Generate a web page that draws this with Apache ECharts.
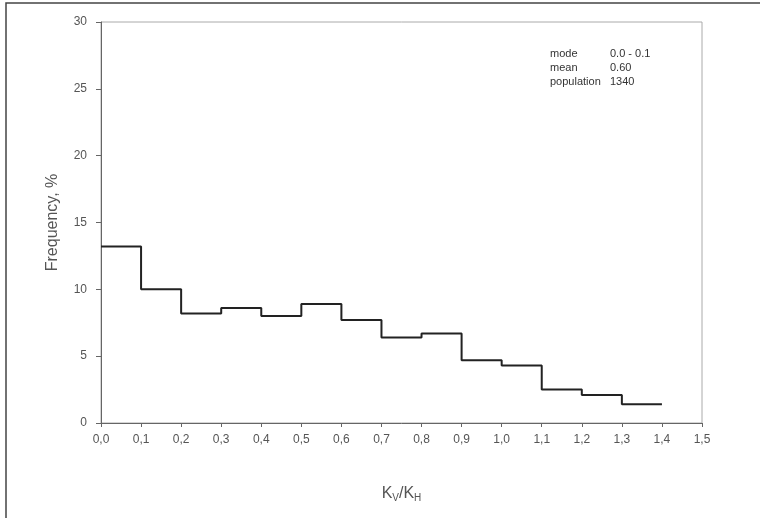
<!DOCTYPE html>
<html>
<head>
<meta charset="utf-8">
<script src="https://cdn.jsdelivr.net/npm/echarts@6/dist/echarts.min.js"></script>
<style>
  html, body { margin: 0; padding: 0; background: #fff; }
  #chart { width: 760px; height: 518px; }
</style>
</head>
<body>
<div id="chart"></div>
<script>
// histogram of Kv/Kh, bins of 0.1
const binStarts = [0.0, 0.1, 0.2, 0.3, 0.4, 0.5, 0.6, 0.7, 0.8, 0.9, 1.0, 1.1, 1.2, 1.3]
const binWidth = 0.1
const frequency = [13.2, 10.0, 8.2, 8.6, 8.0, 8.9, 7.7, 6.4, 6.7, 4.7, 4.3, 2.5, 2.1, 1.4]

const statLabels = ['mode', 'mean', 'population']
const statValues = ['0.0 - 0.1', '0.60', '1340']

// step points: left edge of each bin, plus right edge of the last one
const stepData = binStarts.map((x, i) => [x, frequency[i]])
stepData.push([binStarts[binStarts.length - 1] + binWidth, frequency[frequency.length - 1]])

const font = '"Liberation Sans", Arial, sans-serif'

const chart = echarts.init(document.getElementById('chart'))

chart.setOption({
  animation: false,
  backgroundColor: '#fff',
  grid: {
    left: 101, right: 58, top: 22, bottom: 95,
    show: true, borderColor: '#aaa', borderWidth: 1
  },
  xAxis: {
    type: 'value',
    min: 0, max: 1.5, interval: 0.1,
    name: '{k|K}{s|V}{k|/K}{s|H}',
    nameLocation: 'middle',
    nameGap: 62,
    nameTextStyle: {
      rich: {
        k: { fontFamily: font, fontSize: 16, color: '#555' },
        s: { fontFamily: font, fontSize: 10, color: '#555', verticalAlign: 'bottom', padding: [8, 0, 0, 0] }
      }
    },
    axisLine: { lineStyle: { color: '#666', width: 1 } },
    axisTick: { show: true, length: 4, lineStyle: { color: '#666' } },
    splitLine: { show: false },
    axisLabel: {
      margin: 11,
      fontFamily: font, fontSize: 12, color: '#555',
      formatter: v => v.toFixed(1).replace('.', ',')
    }
  },
  yAxis: {
    type: 'value',
    min: 0, max: 30, interval: 5,
    name: 'Frequency, %',
    nameLocation: 'middle',
    nameGap: 40,
    nameTextStyle: { fontFamily: font, fontSize: 16, color: '#555' },
    axisLine: { show: true, lineStyle: { color: '#666', width: 1 } },
    axisTick: { show: true, length: 5, lineStyle: { color: '#666' } },
    splitLine: { show: false },
    axisLabel: { margin: 14, fontFamily: font, fontSize: 12, color: '#555' }
  },
  series: [{
    type: 'line',
    step: 'end',
    data: stepData,
    symbol: 'none',
    lineStyle: { color: '#222', width: 2 }
  }],
  graphic: [
    {
      type: 'polyline',
      shape: { points: [[6, 520], [6, 3], [762, 3]] },
      style: { stroke: '#444', lineWidth: 1.5, fill: null },
      silent: true
    },
    {
      type: 'text', left: 550, top: 47,
      style: { text: statLabels.join('\n'), font: '11px ' + font, fill: '#333', lineHeight: 14 }
    },
    {
      type: 'text', left: 610, top: 47,
      style: { text: statValues.join('\n'), font: '11px ' + font, fill: '#333', lineHeight: 14 }
    }
  ]
})
</script>
</body>
</html>
